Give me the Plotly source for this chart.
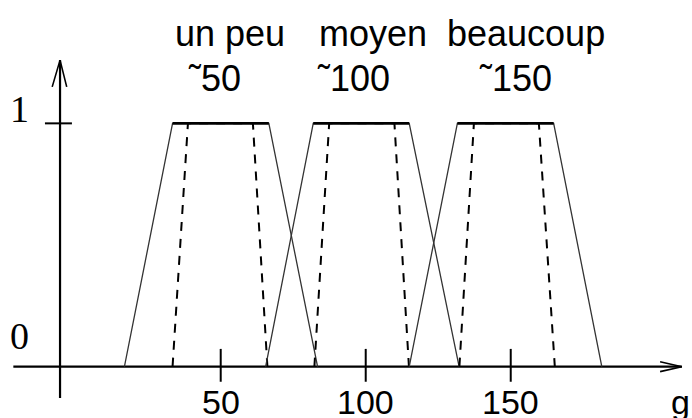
import plotly.graph_objects as go

# ---- data ----
sets = ["un peu", "moyen", "beaucoup"]
centres = ["˜50", "˜100", "˜150"]
membership = [0, 1, 1, 0]
solid_un_peu = [16.8, 33.4, 66.6, 83.4]
solid_moyen = [65.5, 81.9, 115.0, 132.2]
solid_beaucoup = [115.0, 131.6, 164.8, 181.4]
dashed_un_peu = [33.4, 38.7, 61.1, 66.1]
dashed_moyen = [82.3, 87.4, 109.9, 114.9]
dashed_beaucoup = [132.3, 137.3, 159.7, 165.2]
x_ticks = [50, 100, 150]
y_ticks = [0, 1]
x_unit = "g"

solids = [solid_un_peu, solid_moyen, solid_beaucoup]
dasheds = [dashed_un_peu, dashed_moyen, dashed_beaucoup]

# ---- layout constants ----
X_RANGE = [-26.1, 212.5]
Y_RANGE = [-0.211, 1.507]
Y_AXIS_X = -5.4
X_AXIS_START, X_AXIS_END = -21.5, 209.0
Y_AXIS_BOTTOM, Y_AXIS_TOP = -0.129, 1.26
SANS = "Liberation Sans, Arial, sans-serif"
SERIF = "Liberation Serif, Times New Roman, serif"
FS = 34
FS_TOP = 36
FS_SERIF = 38

fig = go.Figure()

line_kw = dict(mode="lines", hoverinfo="skip", showlegend=False)

# axes
fig.add_trace(go.Scatter(x=[X_AXIS_START, X_AXIS_END], y=[0, 0],
                         line=dict(color="black", width=2.2), **line_kw))
fig.add_trace(go.Scatter(x=[Y_AXIS_X, Y_AXIS_X], y=[Y_AXIS_BOTTOM, Y_AXIS_TOP],
                         line=dict(color="black", width=2.2), **line_kw))
# arrow heads (open)
fig.add_trace(go.Scatter(x=[X_AXIS_END - 7.5, X_AXIS_END, X_AXIS_END - 7.5],
                         y=[0.0205, 0, -0.0205],
                         line=dict(color="black", width=1.6), **line_kw))
fig.add_trace(go.Scatter(x=[Y_AXIS_X - 2.7, Y_AXIS_X, Y_AXIS_X + 2.3],
                         y=[Y_AXIS_TOP - 0.11, Y_AXIS_TOP, Y_AXIS_TOP - 0.11],
                         line=dict(color="black", width=1.6), **line_kw))
# x ticks
for t in x_ticks:
    fig.add_trace(go.Scatter(x=[t, t], y=[0.073, -0.062],
                             line=dict(color="black", width=2), **line_kw))
# y tick at 1
fig.add_trace(go.Scatter(x=[Y_AXIS_X - 5.2, Y_AXIS_X + 4.1], y=[1, 1],
                         line=dict(color="black", width=2), **line_kw))

# trapezoids
for s, d in zip(solids, dasheds):
    fig.add_trace(go.Scatter(x=s, y=membership,
                             line=dict(color="#333333", width=1.3), **line_kw))
    fig.add_trace(go.Scatter(x=d, y=membership,
                             line=dict(color="black", width=2, dash="9px,8px"), **line_kw))
    fig.add_trace(go.Scatter(x=s[1:3], y=membership[1:3],
                             line=dict(color="black", width=2.6), **line_kw))

ann = []
# x tick labels
for t in x_ticks:
    ann.append(dict(x=t, y=-0.145, text=str(t), showarrow=False,
                    xanchor="center", yanchor="middle",
                    font=dict(family=SANS, size=FS, color="black")))
ann.append(dict(x=208.7, y=-0.145, text=x_unit, showarrow=False,
                xanchor="center", yanchor="middle",
                font=dict(family=SANS, size=FS, color="black")))
# y tick labels
for t, yy in zip(y_ticks, [0.126, 1.06]):
    ann.append(dict(x=-19.4, y=yy, text=str(t), showarrow=False,
                    xanchor="center", yanchor="middle",
                    font=dict(family=SERIF, size=FS_SERIF, color="black")))
# set names
name_x = [53.2, 102.5, 155.3]
centre_x = [47.7, 95.9, 151.8]
for nm, cx, ce, cex in zip(sets, name_x, centres, centre_x):
    ann.append(dict(x=cx, y=1.368, text=nm, showarrow=False,
                    xanchor="center", yanchor="middle",
                    font=dict(family=SANS, size=FS_TOP, color="black")))
    ann.append(dict(x=cex, y=1.186, text=ce, showarrow=False,
                    xanchor="center", yanchor="middle",
                    font=dict(family=SANS, size=FS_TOP, color="black")))

fig.update_layout(
    width=692, height=418,
    margin=dict(l=0, r=0, t=0, b=0),
    paper_bgcolor="white", plot_bgcolor="white",
    xaxis=dict(range=X_RANGE, visible=False, fixedrange=True),
    yaxis=dict(range=Y_RANGE, visible=False, fixedrange=True),
    annotations=ann,
    showlegend=False,
)
fig.write_html("out.html", config={"displayModeBar": False},
               post_script="document.body.style.margin='0px';document.body.style.overflow='hidden';")
